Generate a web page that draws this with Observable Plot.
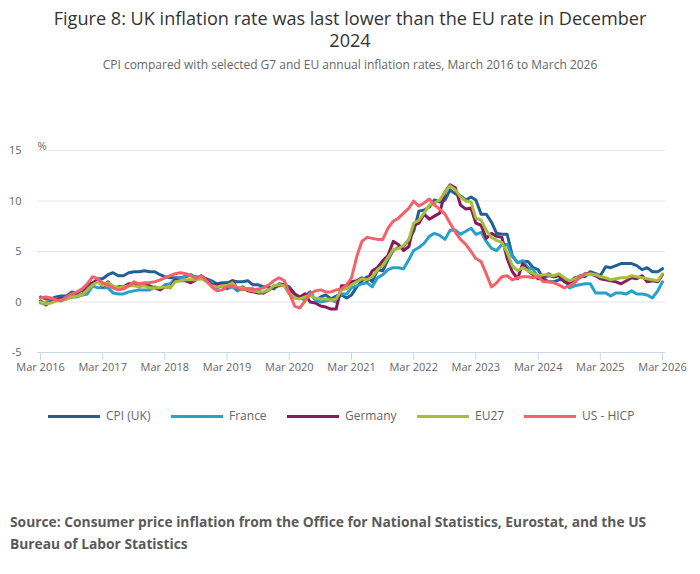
<!DOCTYPE html>
<html>
<head>
<meta charset="utf-8">
<script src="https://cdn.jsdelivr.net/npm/d3@7"></script>
<script src="https://cdn.jsdelivr.net/npm/@observablehq/plot@0.6"></script>
<style>
  html, body { margin: 0; padding: 0; background: #fff; }
  body { width: 700px; height: 574px; position: relative; overflow: hidden; font-family: "Open Sans", sans-serif; }
  #title { position: absolute; top: 7px; left: 0; width: 700px; text-align: center; font-size: 18.1px; line-height: 22px; color: #333; }
  #subtitle { position: absolute; top: 57px; left: 0; width: 700px; text-align: center; font-size: 12px; line-height: 16px; color: #666; }
  #chart { position: absolute; top: 120px; left: 0; }
  .leg { position: absolute; top: 408px; height: 16px; font-size: 12px; line-height: 16px; color: #666; white-space: nowrap; }
  .sw { position: absolute; top: 7px; height: 3px; width: 52px; }
  #source { position: absolute; top: 511px; left: 10px; font-size: 13.8px; line-height: 22px; font-weight: bold; color: #5a5a5a; white-space: nowrap; }
</style>
</head>
<body>
<div id="title">Figure 8: UK inflation rate was last lower than the EU rate in December<br>2024</div>
<div id="subtitle">CPI compared with selected G7 and EU annual inflation rates, March 2016 to March 2026</div>
<div id="chart"></div>
<div id="legend"></div>
<div id="source">Source: Consumer price inflation from the Office for National Statistics, Eurostat, and the US<br>Bureau of Labor Statistics</div>
<script>
// Monthly annual inflation rates, March 2016 onwards
const seriesNames = ["CPI (UK)", "France", "Germany", "EU27", "US - HICP"];
const seriesColors = ["#206095", "#27a0cc", "#871a5b", "#a8bd3a", "#f66068"];
const xTickLabels = ["Mar 2016","Mar 2017","Mar 2018","Mar 2019","Mar 2020","Mar 2021","Mar 2022","Mar 2023","Mar 2024","Mar 2025","Mar 2026"];
const yTicks = [-5, 0, 5, 10, 15];

const ukCPI = [
  0.5, 0.3, 0.3, 0.5, 0.6, 0.6, 1.0, 0.9, 1.2, 1.6,
  1.8, 2.3, 2.3, 2.7, 2.9, 2.6, 2.6, 2.9, 3.0, 3.0, 3.1, 3.0,
  3.0, 2.7, 2.5, 2.4, 2.4, 2.4, 2.5, 2.7, 2.4, 2.4, 2.3, 2.1,
  1.8, 1.9, 1.9, 2.1, 2.0, 2.0, 2.1, 1.7, 1.7, 1.5, 1.5, 1.3,
  1.8, 1.7, 1.5, 0.8, 0.5, 0.6, 1.0, 0.2, 0.5, 0.7, 0.3, 0.6,
  0.7, 0.4, 0.7, 1.5, 2.1, 2.5, 2.0, 3.2, 3.1, 4.2, 5.1, 5.4,
  5.5, 6.2, 7.0, 9.0, 9.1, 9.4, 10.1, 9.9, 10.1, 11.1, 10.7, 10.5,
  10.1, 10.4, 10.1, 8.7, 8.7, 7.9, 6.8, 6.7, 6.7, 4.6, 3.9, 4.0,
  4.0, 3.4, 3.2, 2.3, 2.0, 2.0, 2.2, 2.2, 1.7, 2.3, 2.6, 2.5,
  3.0, 2.8, 2.6, 3.5, 3.4, 3.6, 3.8, 3.8, 3.8, 3.6, 3.2, 3.4,
  3.0, 3.0, 3.3
];
const france = [
  -0.1, -0.1, 0.1, 0.3, 0.4, 0.4, 0.5, 0.5, 0.7, 0.8,
  1.6, 1.4, 1.4, 1.4, 0.9, 0.8, 0.8, 1.0, 1.1, 1.2, 1.2, 1.2,
  1.5, 1.3, 1.7, 1.8, 2.3, 2.3, 2.6, 2.6, 2.5, 2.5, 2.2, 1.9,
  1.4, 1.6, 1.3, 1.5, 1.1, 1.4, 1.3, 1.3, 1.1, 0.9, 1.2, 1.6,
  1.7, 1.6, 0.8, 0.4, 0.4, 0.2, 0.9, 0.2, 0.0, 0.1, 0.2, 0.0,
  0.8, 0.8, 1.4, 1.6, 1.8, 1.9, 1.5, 2.4, 2.7, 3.2, 3.4, 3.4,
  3.3, 4.2, 5.1, 5.4, 5.8, 6.5, 6.8, 6.6, 6.2, 7.1, 7.1, 6.7,
  7.0, 7.3, 6.7, 6.9, 6.0, 5.3, 5.1, 5.7, 5.7, 4.5, 3.9, 4.1,
  3.4, 3.2, 2.4, 2.4, 2.6, 2.5, 2.7, 2.2, 1.4, 1.6, 1.7, 1.8,
  1.8, 0.9, 0.9, 0.9, 0.6, 0.9, 0.9, 0.8, 1.1, 0.8, 0.8, 0.7,
  0.4, 1.1, 2.0
];
const germany = [
  0.1, -0.3, 0.0, 0.2, 0.4, 0.3, 0.5, 0.7, 0.7, 1.7,
  1.9, 2.2, 1.5, 2.0, 1.4, 1.5, 1.5, 1.8, 1.8, 1.5, 1.8, 1.6,
  1.4, 1.2, 1.5, 1.4, 2.2, 2.1, 2.1, 1.9, 2.2, 2.6, 2.2, 1.7,
  1.7, 1.7, 1.4, 2.1, 1.3, 1.5, 1.1, 1.0, 0.9, 0.9, 1.2, 1.5,
  1.6, 1.7, 1.3, 0.8, 0.5, 0.8, 0.0, -0.1, -0.4, -0.5, -0.7, -0.7,
  1.6, 1.6, 2.0, 2.1, 2.4, 2.1, 3.1, 3.4, 4.1, 4.6, 6.0, 5.7,
  5.1, 5.5, 7.6, 7.8, 8.7, 8.2, 8.5, 8.8, 10.9, 11.6, 11.3, 9.6,
  9.2, 9.3, 7.8, 7.6, 6.3, 6.8, 6.5, 6.4, 4.3, 3.0, 2.3, 3.8,
  3.1, 2.7, 2.3, 2.4, 2.8, 2.5, 2.6, 2.0, 1.8, 2.4, 2.4, 2.8,
  2.8, 2.6, 2.3, 2.2, 2.1, 2.0, 1.8, 2.1, 2.4, 2.3, 2.6, 2.0,
  2.1, 2.0, 2.7
];
const eu27 = [
  0.0, -0.2, -0.1, 0.1, 0.2, 0.3, 0.5, 0.6, 0.7, 1.2,
  1.7, 2.0, 1.6, 1.9, 1.6, 1.4, 1.5, 1.6, 1.6, 1.5, 1.6, 1.4,
  1.4, 1.4, 1.5, 1.4, 2.0, 2.1, 2.2, 2.2, 2.2, 2.3, 2.0, 1.6,
  1.5, 1.6, 1.6, 1.9, 1.4, 1.4, 1.2, 1.1, 1.0, 1.0, 1.2, 1.6,
  1.7, 1.6, 0.9, 0.4, 0.3, 0.5, 0.7, 0.4, 0.3, 0.3, 0.2, 0.3,
  1.2, 1.3, 1.7, 2.0, 2.3, 2.2, 2.5, 3.2, 3.6, 4.4, 5.2, 5.3,
  5.6, 6.2, 7.8, 8.1, 8.8, 9.6, 9.8, 10.1, 10.9, 11.5, 11.1, 10.4,
  10.0, 9.9, 8.3, 8.1, 7.1, 6.4, 6.1, 5.9, 4.9, 3.6, 3.1, 3.4,
  3.1, 2.8, 2.6, 2.7, 2.7, 2.6, 2.8, 2.4, 2.1, 2.3, 2.5, 2.7,
  2.8, 2.7, 2.5, 2.4, 2.2, 2.3, 2.4, 2.4, 2.6, 2.5, 2.4, 2.3,
  2.2, 2.1, 2.8
];
const usHICP = [
  0.4, 0.5, 0.4, 0.2, 0.1, 0.5, 0.8, 1.0, 1.3, 1.8,
  2.5, 2.3, 1.9, 1.7, 1.4, 1.2, 1.3, 1.6, 2.0, 1.8, 1.9, 1.9,
  2.0, 2.2, 2.4, 2.6, 2.8, 2.9, 2.8, 2.6, 2.3, 2.6, 2.1, 1.5,
  1.1, 1.2, 1.5, 1.6, 1.4, 1.2, 1.3, 1.2, 1.3, 1.4, 1.7, 2.1,
  2.4, 2.1, 0.9, -0.4, -0.6, 0.1, 0.8, 1.1, 1.2, 1.0, 1.0, 1.2,
  1.3, 1.7, 2.4, 4.5, 6.0, 6.4, 6.3, 6.2, 6.2, 7.3, 8.0, 8.3,
  8.8, 9.3, 10.0, 9.5, 9.8, 10.2, 9.6, 9.2, 8.7, 7.8, 6.9, 6.2,
  5.7, 5.0, 4.3, 4.0, 2.8, 1.5, 1.9, 2.5, 2.6, 2.2, 2.4, 2.5,
  2.5, 2.4, 2.5, 2.0, 2.0, 1.9, 1.7, 1.4, 1.6, 1.9, 2.5, 2.8
];

const seriesValues = [ukCPI, france, germany, eu27, usHICP];
const start = new Date(Date.UTC(2016, 2, 1));
const months = d3.utcMonth.range(start, new Date(Date.UTC(2026, 3, 1)));
const tickDates = d3.utcYear.range(new Date(Date.UTC(2016, 0, 1)), new Date(Date.UTC(2027, 0, 1))).map(d => d3.utcMonth.offset(d, 2));

const data = [];
seriesValues.forEach((vals, s) => {
  vals.forEach((v, i) => data.push({date: months[i], value: v, series: seriesNames[s]}));
});

const chart = Plot.plot({
  width: 700,
  height: 265,
  marginLeft: 40,
  marginRight: 38,
  marginTop: 30,
  marginBottom: 33,
  style: {fontFamily: "Open Sans, sans-serif", fontSize: "11px", color: "#666", background: "transparent"},
  x: {type: "utc", domain: [start, new Date(Date.UTC(2026, 2, 1))]},
  y: {domain: [-5, 15]},
  color: {domain: seriesNames, range: seriesColors},
  marks: [
    Plot.ruleY([0, 5, 10, 15], {stroke: "#e6e6e6", strokeWidth: 1, insetLeft: -3, insetRight: -3}),
    Plot.ruleY([-5], {stroke: "#ccd6eb", strokeWidth: 1, insetLeft: -3, insetRight: -3}),
    Plot.axisY({ticks: yTicks, tickFormat: d => String(d), tickSize: 0, tickPadding: 19, label: null, fill: "#666"}),
    Plot.axisX({ticks: tickDates, tickFormat: (d, i) => xTickLabels[i], tickSize: 8, tickPadding: 3, stroke: "#ccd6eb", fill: "#666", label: null}),
    Plot.text(["%"], {frameAnchor: "top-left", dx: -3, dy: -8, textAnchor: "start", fill: "#666", fontSize: 11}),
    Plot.lineY(data, {x: "date", y: "value", z: "series", stroke: "series", strokeWidth: 3, strokeLinejoin: "round", strokeLinecap: "round"})
  ]
});
document.getElementById("chart").appendChild(chart);

// Legend
const legendX = [48, 171, 287, 417, 524];
const legend = document.getElementById("legend");
seriesNames.forEach((name, i) => {
  const item = document.createElement("div");
  item.className = "leg";
  item.style.left = legendX[i] + "px";
  item.innerHTML = `<span class="sw" style="left:0;background:${seriesColors[i]}"></span><span style="position:absolute;left:58px">${name}</span>`;
  legend.appendChild(item);
});
</script>
</body>
</html>
